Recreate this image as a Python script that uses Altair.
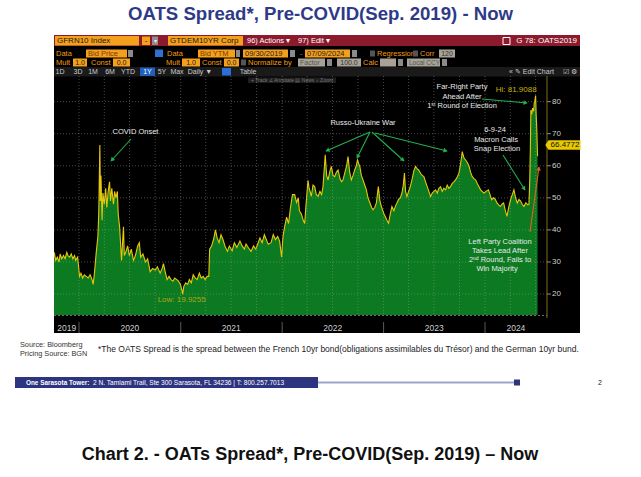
import math
import altair as alt
import pandas as pd

# ------------------------------------------------------------------ data
dates = [
    "2019-09-30", "2019-10-04", "2019-10-09", "2019-10-15", "2019-10-21", "2019-10-25", "2019-10-31",
    "2019-11-06", "2019-11-12", "2019-11-18", "2019-11-22", "2019-11-28", "2019-12-04", "2019-12-10",
    "2019-12-16", "2019-12-20", "2019-12-27",
    "2020-01-03", "2020-01-08", "2020-01-14", "2020-01-20", "2020-01-27", "2020-02-03", "2020-02-10",
    "2020-02-17", "2020-02-21", "2020-02-26", "2020-03-03", "2020-03-09", "2020-03-12", "2020-03-16",
    "2020-03-18", "2020-03-20", "2020-03-24", "2020-03-27", "2020-04-01", "2020-04-06", "2020-04-10",
    "2020-04-15", "2020-04-20", "2020-04-23", "2020-04-28", "2020-05-04", "2020-05-08", "2020-05-13",
    "2020-05-18", "2020-05-21", "2020-05-26", "2020-06-02", "2020-06-05", "2020-06-09", "2020-06-12",
    "2020-06-17", "2020-06-24", "2020-06-30", "2020-07-07", "2020-07-15", "2020-07-22", "2020-07-30",
    "2020-08-05", "2020-08-10", "2020-08-18", "2020-08-27", "2020-09-04", "2020-09-13", "2020-09-22",
    "2020-10-01", "2020-10-09", "2020-10-19", "2020-10-26", "2020-10-31", "2020-11-06", "2020-11-13",
    "2020-11-20", "2020-11-27", "2020-12-04", "2020-12-10", "2020-12-18", "2020-12-24", "2020-12-31",
    "2021-01-06", "2021-01-08", "2021-01-12", "2021-01-19", "2021-01-26", "2021-02-01", "2021-02-08",
    "2021-02-15", "2021-02-22", "2021-03-01", "2021-03-09", "2021-03-16", "2021-03-23", "2021-03-30",
    "2021-04-06", "2021-04-12", "2021-04-15", "2021-04-22", "2021-04-29", "2021-05-06", "2021-05-12",
    "2021-05-19", "2021-05-26", "2021-06-02", "2021-06-09", "2021-06-18", "2021-06-25", "2021-07-05",
    "2021-07-13", "2021-07-22", "2021-08-02", "2021-08-10", "2021-08-18", "2021-08-24", "2021-09-01",
    "2021-09-11", "2021-09-20", "2021-09-28", "2021-10-05", "2021-10-13", "2021-10-21", "2021-10-29",
    "2021-11-05", "2021-11-12", "2021-11-22", "2021-11-30", "2021-12-08", "2021-12-16", "2021-12-23",
    "2021-12-30",
    "2022-01-04", "2022-01-10", "2022-01-17", "2022-01-24", "2022-01-31", "2022-02-07", "2022-02-15",
    "2022-02-22", "2022-02-28", "2022-03-04", "2022-03-11", "2022-03-18", "2022-03-23", "2022-03-28",
    "2022-04-04", "2022-04-08", "2022-04-16", "2022-04-22", "2022-04-28", "2022-05-04", "2022-05-10",
    "2022-05-17", "2022-05-23", "2022-05-28", "2022-06-05", "2022-06-10", "2022-06-15", "2022-06-21",
    "2022-06-27", "2022-07-03", "2022-07-09", "2022-07-15", "2022-07-21", "2022-07-28", "2022-08-03",
    "2022-08-08", "2022-08-15", "2022-08-21", "2022-08-26", "2022-09-01", "2022-09-07", "2022-09-13",
    "2022-09-19", "2022-09-25", "2022-09-29", "2022-10-04", "2022-10-07", "2022-10-13", "2022-10-19",
    "2022-10-25", "2022-10-31", "2022-11-06", "2022-11-13", "2022-11-19", "2022-11-24", "2022-11-30",
    "2022-12-06", "2022-12-13", "2022-12-19", "2022-12-24",
    "2023-01-02", "2023-01-07", "2023-01-13", "2023-01-19", "2023-01-25", "2023-01-31", "2023-02-07",
    "2023-02-13", "2023-02-18", "2023-02-24", "2023-03-02", "2023-03-08", "2023-03-13", "2023-03-17",
    "2023-03-21", "2023-03-26", "2023-04-01", "2023-04-07", "2023-04-14", "2023-04-20", "2023-04-26",
    "2023-05-02", "2023-05-07", "2023-05-15", "2023-05-20", "2023-05-26", "2023-06-01", "2023-06-07",
    "2023-06-13", "2023-06-19", "2023-06-25", "2023-07-01", "2023-07-07", "2023-07-13", "2023-07-19",
    "2023-07-25", "2023-07-31", "2023-08-06", "2023-08-12", "2023-08-18", "2023-08-24", "2023-08-30",
    "2023-09-05", "2023-09-11", "2023-09-17", "2023-09-23", "2023-09-29", "2023-10-04", "2023-10-09",
    "2023-10-11", "2023-10-17", "2023-10-23", "2023-10-29", "2023-11-04", "2023-11-10", "2023-11-16",
    "2023-11-22", "2023-11-28", "2023-12-04", "2023-12-10", "2023-12-16", "2023-12-22", "2023-12-28",
    "2024-01-05", "2024-01-13", "2024-01-19", "2024-01-25", "2024-02-01", "2024-02-07", "2024-02-13",
    "2024-02-19", "2024-02-25", "2024-03-02", "2024-03-08", "2024-03-14", "2024-03-20", "2024-03-26",
    "2024-04-02", "2024-04-08", "2024-04-14", "2024-04-20", "2024-04-26", "2024-05-02", "2024-05-08",
    "2024-05-14", "2024-05-20", "2024-05-27", "2024-06-03", "2024-06-07", "2024-06-10", "2024-06-12",
    "2024-06-14", "2024-06-17", "2024-06-20", "2024-06-24", "2024-06-26", "2024-06-28", "2024-07-01",
    "2024-07-03", "2024-07-05", "2024-07-08",
]
spread = [
    30.5, 33.0, 30.5, 31.5, 30.0, 32.5, 31.0,
    32.0, 31.0, 33.0, 32.0, 31.5, 32.5, 31.0,
    32.0, 30.5, 31.5,
    25.5, 26.5, 25.0, 26.0, 25.5, 25.0, 26.0,
    24.5, 23.0, 27.0, 33.0, 38.0, 45.0, 66.5,
    49.0, 57.0, 43.0, 51.5, 48.0, 53.0, 47.0,
    52.0, 55.0, 49.0, 53.0, 48.0, 52.0, 50.0,
    52.0, 45.0, 41.0, 30.5, 35.0, 41.0, 32.0,
    33.0, 35.0, 32.0, 34.0, 30.5, 32.0, 35.0,
    36.0, 31.5, 32.5, 30.0, 31.0, 27.0, 28.0,
    27.5, 28.5, 26.5, 28.0, 29.5, 27.0, 24.5,
    25.5, 24.5, 24.0, 25.0, 24.5, 24.0, 23.0,
    21.0, 19.9255, 22.4, 23.5, 23.0, 24.5, 23.5,
    26.0, 25.0, 24.5, 26.5, 25.0, 25.5, 24.5,
    25.5, 25.5, 34.0, 35.0, 37.0, 40.0, 37.5,
    36.0, 38.5, 37.0, 35.0, 33.3, 35.0, 33.5,
    36.0, 34.5, 36.5, 35.0, 34.0, 35.6, 34.5,
    33.3, 35.0, 34.0, 35.6, 37.5, 36.0, 38.5,
    37.0, 35.5, 36.0, 38.5, 37.0, 38.0, 36.5,
    31.5,
    38.0, 41.0, 44.0, 42.0, 47.0, 51.0, 51.0,
    48.5, 50.0, 46.0, 45.0, 43.0, 42.0, 48.0,
    55.5, 53.0, 50.5, 54.0, 53.5, 51.0, 50.5,
    52.0, 51.0, 53.5, 63.4, 57.0, 55.5, 58.0,
    59.8, 57.0, 56.6, 58.0, 58.7, 56.0, 55.0,
    55.6, 58.0, 60.0, 62.9, 58.0, 55.6, 57.0,
    58.7, 60.0, 61.8, 60.5, 60.0, 57.0, 55.6,
    54.0, 52.5, 50.0, 48.4, 47.0, 46.3, 47.0,
    48.4, 53.5, 49.0, 47.3,
    45.0, 44.2, 43.0, 42.1, 45.0, 47.3, 46.0,
    47.5, 48.4, 49.5, 50.0, 51.5, 54.0, 57.7,
    52.0, 50.4, 52.0, 53.5, 56.0, 58.5, 59.8,
    59.0, 58.7, 57.5, 57.0, 56.6, 55.0, 53.5,
    52.0, 50.4, 51.5, 52.0, 52.5, 51.5, 53.0,
    53.5, 52.0, 53.0, 52.5, 54.0, 53.0, 53.5,
    54.5, 55.0, 55.6, 56.5, 57.7, 60.0, 63.0,
    64.4, 62.5, 61.8, 61.0, 60.0, 58.0, 56.6,
    56.0, 55.6, 54.5, 53.5, 52.5, 52.0, 51.5,
    52.0, 52.5, 51.0, 49.4, 50.0, 49.5, 48.4,
    47.8, 47.3, 48.0, 48.4, 46.0, 44.2, 47.0,
    49.4, 51.0, 52.5, 50.0, 48.4, 49.5, 49.0,
    48.0, 47.3, 48.5, 47.8, 48.0, 55.6, 65.0,
    77.4, 76.0, 78.0, 77.0, 79.6, 80.0, 81.9088,
    76.0, 72.0, 63.0,
]

year_labels = ["2019", "2020", "2021", "2022", "2023", "2024"]
year_label_dates = ["2019-11-18", "2020-07-02", "2021-07-02", "2022-07-02", "2023-07-02", "2024-04-21"]
year_starts = ["2020-01-01", "2021-01-01", "2022-01-01", "2023-01-01", "2024-01-01"]
quarter_starts = [
    "2020-01-01", "2020-04-01", "2020-07-01", "2020-10-01",
    "2021-01-01", "2021-04-01", "2021-07-01", "2021-10-01",
    "2022-01-01", "2022-04-01", "2022-07-01", "2022-10-01",
    "2023-01-01", "2023-04-01", "2023-07-01", "2023-10-01",
    "2024-01-01", "2024-04-01", "2024-07-01",
]
y_ticks = [20, 30, 40, 50, 60, 70, 80]
hi_date, hi_value = "2024-07-01", 81.9088
low_date, low_value = "2021-01-08", 19.9255
last_value = 66.4772

# ------------------------------------------------------------------ layout
OX, OY = 54, 76          # plot-area origin within the 641x477 page
W, H = 493, 239          # plot-area size
FONT = "Liberation Sans"
GREEN = "#0b7a20"
YELLOW = "#e8c80a"
ORANGE = "#f5a01c"
OTXT = "#f39c12"
TAN = "#a8a396"
GRAY = "#8a8a8a"
ARROW_G = "#22b04f"
UI = 7.5

one = pd.DataFrame({"k": [0]})

xscale = alt.Scale(domain=[alt.DateTime(year=2019, month=10, date=3, utc=True),
                           alt.DateTime(year=2024, month=8, date=11, utc=True)])
yscale = alt.Scale(domain=[13.46, 88.0], nice=False, zero=False)

layers = []


def R(x1, y1, x2, y2, color, **kw):
    layers.append(alt.Chart(one).mark_rect(color=color, **kw).encode(
        x=alt.value(x1 - OX), x2=alt.value(x2 - OX),
        y=alt.value(y1 - OY), y2=alt.value(y2 - OY)))


def T(s, x, y, size=UI, color="#e6e6e6", align="left", weight="normal", font=FONT):
    layers.append(alt.Chart(one).mark_text(
        text=s, align=align, baseline="middle", fontSize=size, color=color,
        fontWeight=weight, font=font).encode(x=alt.value(x - OX), y=alt.value(y - OY)))


def L(x1, y1, x2, y2, color, width=1.2, dash=None):
    kw = {"strokeDash": dash} if dash else {}
    layers.append(alt.Chart(one).mark_rule(color=color, strokeWidth=width, **kw).encode(
        x=alt.value(x1 - OX), y=alt.value(y1 - OY),
        x2=alt.value(x2 - OX), y2=alt.value(y2 - OY)))


def A(x1, y1, x2, y2, color, width=1.1):
    L(x1, y1, x2, y2, color, width)
    ang = math.degrees(math.atan2(x2 - x1, -(y2 - y1))) % 360
    d = math.hypot(x2 - x1, y2 - y1)
    ux, uy = (x2 - x1) / d, (y2 - y1) / d
    layers.append(alt.Chart(one).mark_point(
        shape="triangle-up", filled=True, color=color, size=22, angle=ang, opacity=1).encode(
        x=alt.value(x2 - 1.5 * ux - OX), y=alt.value(y2 - 1.5 * uy - OY)))


# ---------------- page texts
T("OATS Spread*, Pre-COVID(Sep. 2019) - Now", 320.5, 14, 18.6, "#2e3a87", "center", "bold")
T("Chart 2. - OATs Spread*, Pre-COVID(Sep. 2019) \u2013 Now", 310, 455, 18, "#111111", "center", "bold")

# ---------------- Bloomberg panel
R(54, 35, 580, 333, "#000000")
R(54, 35, 580, 46, "#8a1a2c")
R(55, 36, 139, 45.5, ORANGE)
T("GFRN10 Index", 57, 41, 8, "#1a1a1a")
R(142, 36.5, 150, 45, ORANGE)
T("-", 146, 40.5, 8, "#1a1a1a", "center")
R(152, 36.5, 158, 45, "#8d8d8d")
T("\u25be", 155, 41, 6, "#eeeeee", "center")
R(168, 36, 243, 45.5, ORANGE)
T("GTDEM10YR Corp", 170, 41, 8, "#1a1a1a")
T("96) Actions \u25be", 247, 41, UI, "#ffffff")
T("97) Edit \u25be", 298, 41, UI, "#ffffff")
layers.append(alt.Chart(one).mark_rect(filled=False, stroke="#ffffff", strokeWidth=1).encode(
    x=alt.value(503 - OX), x2=alt.value(510 - OX), y=alt.value(37.5 - OY), y2=alt.value(44.5 - OY)))
T("G 78: OATS2019", 577, 41, 8, "#ffffff", "right")

# row 2
r2 = 53.5
T("Data", 56, r2, UI, OTXT)
R(86, 49.5, 127, 57.5, ORANGE); T("Bid Price", 88, r2, UI, "#7a3a00")
R(128, 50, 133, 57, GRAY)
R(155, 49.5, 163, 57, "#2f6fd0")
T("Data", 167, r2, UI, OTXT)
R(198, 49.5, 235, 57.5, ORANGE); T("Bid YTM", 200, r2, UI, "#7a3a00")
R(236, 50, 240, 57, GRAY)
R(243, 49.5, 288, 57.5, ORANGE); T("09/30/2019", 245, r2, UI, "#1a1a1a")
R(290, 50, 295, 57, GRAY)
T("-", 300, r2, UI, GRAY)
R(305, 49.5, 350, 57.5, ORANGE); T("07/09/2024", 307, r2, UI, "#1a1a1a")
R(352, 50, 357, 57, GRAY)
R(370, 50.5, 375, 56.5, "#555555"); T("Regression", 377, r2, UI, OTXT)
R(413, 50.5, 418, 56.5, "#555555"); T("Corr", 420, r2, UI, OTXT)
R(439, 49.5, 455, 57.5, TAN); T("120", 447, r2, 7, "#333333", "center")

# row 3
r3 = 62.5
T("Mult", 56, r3, UI, OTXT)
R(73, 58.5, 87, 66.5, ORANGE); T("1.0", 80, r3, 7, "#1a1a1a", "center")
T("Const", 91, r3, UI, OTXT)
R(113, 58.5, 130, 66.5, ORANGE); T("0.0", 121.5, r3, 7, "#1a1a1a", "center")
T("Mult", 166, r3, UI, OTXT)
R(182, 58.5, 200, 66.5, ORANGE); T("1.0", 191, r3, 7, "#1a1a1a", "center")
T("Const", 202, r3, UI, OTXT)
R(224, 58.5, 239, 66.5, ORANGE); T("0.0", 231.5, r3, 7, "#1a1a1a", "center")
R(241, 59.5, 246, 65.5, "#555555"); T("Normalize by", 248, r3, UI, OTXT)
R(298, 58.5, 325, 66.5, TAN); T("Factor", 300, r3, 7, "#555555")
R(327, 59, 332, 66, GRAY)
R(337, 58.5, 361, 66.5, TAN); T("100.0", 349, r3, 7, "#333333", "center")
T("Calc", 363, r3, UI, OTXT)
R(380, 58.5, 396, 66.5, TAN)
R(398, 59, 403, 66, GRAY)
R(407, 58.5, 440, 66.5, TAN); T("Local CCY", 409, r3, 6.5, "#555555")
R(442, 59, 447, 66, GRAY)

# toolbar
R(54, 67, 580, 76.5, "#1a1a1a")
tb = 71.8
for s, x in [("1D", 60), ("3D", 78), ("1M", 93), ("6M", 110), ("YTD", 128)]:
    T(s, x, tb, 7, "#cccccc", "center")
R(140, 67.5, 155, 76, "#1f5fbf"); T("1Y", 147.5, tb, 7, "#ffffff", "center")
for s, x in [("5Y", 162), ("Max", 177), ("Daily \u25bc", 200)]:
    T(s, x, tb, 7, "#cccccc", "center")
R(222, 68, 231, 75.5, "#2b6fd6")
T("Table", 248, tb, 7, "#cccccc", "center")
T("\u00ab  \u270e Edit Chart", 509, tb, 7, "#cccccc")
T("\u2611  \u2699", 563, tb, 7, "#cccccc")
R(248, 77.5, 336, 83, "#1e1e1e")
T("+ Track   \u2220 Annotate   \u25a4 News   \u2315 Zoom", 251, 80.3, 5, "#777777")

# ---------------- data layers
df = pd.DataFrame({"date": dates, "v": spread})
base = alt.Chart(df).encode(
    x=alt.X("date:T", scale=xscale, axis=None),
    y=alt.Y("v:Q", scale=yscale, stack=False, axis=None),
)
layers.append(base.mark_area(color=GREEN, clip=True, opacity=1))
layers.append(base.mark_line(color=YELLOW, strokeWidth=1.1, clip=True))

# grid (vertical quarterly, horizontal at ticks)
grid_kw = dict(color="#a8a8a8", strokeDash=[1, 2], opacity=0.55, strokeWidth=0.8)
layers.append(alt.Chart(pd.DataFrame({"d": quarter_starts})).mark_rule(**grid_kw).encode(
    x=alt.X("d:T", scale=xscale, axis=None), y=alt.value(0), y2=alt.value(H)))
ydf = pd.DataFrame({"t": y_ticks})
layers.append(alt.Chart(ydf).mark_rule(**grid_kw).encode(
    y=alt.Y("t:Q", scale=yscale, axis=None), x=alt.value(0), x2=alt.value(W)))

# y axis (right)
L(547, 76, 547, 318, "#6b5d12", 1.2)
layers.append(alt.Chart(ydf).mark_rule(color="#8a8a8a", strokeWidth=1).encode(
    y=alt.Y("t:Q", scale=yscale, axis=None), x=alt.value(W), x2=alt.value(W + 4)))
layers.append(alt.Chart(ydf).mark_text(align="left", baseline="middle", fontSize=8, font=FONT,
                                       color="#cfcfcf").encode(
    y=alt.Y("t:Q", scale=yscale, axis=None), x=alt.value(W + 5), text="t:Q"))

# x axis (bottom)
L(54, 315.5, 547, 315.5, "#6a6a6a", 1, [2, 2])
layers.append(alt.Chart(pd.DataFrame({"d": year_starts})).mark_rule(
    color="#5a5a5a", strokeWidth=1).encode(
    x=alt.X("d:T", scale=xscale, axis=None), y=alt.value(322 - OY), y2=alt.value(333 - OY)))
layers.append(alt.Chart(pd.DataFrame({"d": year_label_dates, "t": year_labels})).mark_text(
    align="center", baseline="middle", fontSize=8.5, font=FONT, color="#cfcfcf").encode(
    x=alt.X("d:T", scale=xscale, axis=None), y=alt.value(328 - OY), text="t:N"))

# hi / low labels
layers.append(alt.Chart(pd.DataFrame({"d": [hi_date], "v": [hi_value], "t": [f"Hi: {hi_value:.4f}"]}))
              .mark_text(align="right", baseline="middle", dx=1, dy=-6, fontSize=8, font=FONT,
                         color="#c8b400")
              .encode(x=alt.X("d:T", scale=xscale, axis=None),
                      y=alt.Y("v:Q", scale=yscale, axis=None), text="t:N"))
layers.append(alt.Chart(pd.DataFrame({"d": [low_date], "v": [low_value], "t": [f"Low: {low_value:.4f}"]}))
              .mark_text(align="center", baseline="middle", dx=-1, dy=6, fontSize=8, font=FONT,
                         color="#b3a41a")
              .encode(x=alt.X("d:T", scale=xscale, axis=None),
                      y=alt.Y("v:Q", scale=yscale, axis=None), text="t:N"))

# last-value tag on the axis
tag = pd.DataFrame({"v": [last_value], "t": [f"{last_value:.4f}"]})
layers.append(alt.Chart(tag).mark_point(
    shape="M-1.2,0L-1,-0.3L1,-0.3L1,0.3L-1,0.3Z", filled=True, color="#e8c800", size=1024,
    opacity=1).encode(x=alt.value(564.5 - OX), y=alt.Y("v:Q", scale=yscale, axis=None)))
layers.append(alt.Chart(tag).mark_text(align="center", baseline="middle", fontSize=8, font=FONT,
                                       color="#111111").encode(
    x=alt.value(565 - OX), y=alt.Y("v:Q", scale=yscale, axis=None), text="t:N"))

# ---------------- annotations
AW = "#e8e8e8"
AS = 7.5
T("COVID Onset", 135.5, 131.7, AS, AW, "center")
A(131, 139, 111, 161, ARROW_G)
T("Russo-Ukraine War", 363, 123.3, AS, AW, "center")
A(370, 132, 326, 151, ARROW_G)
A(370, 132, 357, 158, ARROW_G)
A(372, 132, 404, 161, ARROW_G)
A(375, 133, 447, 151, ARROW_G)
T("Far-Right Party", 462, 87.3, AS, AW, "center")
T("Ahead After", 462, 96.5, AS, AW, "center")
T("1\u02e2\u1d57 Round of Election", 462, 105.7, AS, AW, "center")
A(482, 99, 527, 103, ARROW_G)
T("6-9-24", 495, 130, AS, AW, "center")
T("Macron Calls", 496, 140, AS, AW, "center")
T("Snap Election", 497, 149.3, AS, AW, "center")
A(503, 155, 525, 190, ARROW_G)
T("Left Party Coalition", 500, 242.3, AS, AW, "center")
T("Takes Lead After", 500, 251.3, AS, AW, "center")
T("2\u207f\u1d48 Round, Fails to", 500, 260.3, AS, AW, "center")
T("Win Majority", 497, 269.3, AS, AW, "center")
A(530, 232, 539, 167, "#e8601c")

# ---------------- footer of the slide
T("Source: Bloomberg", 20, 344.5, 7.3, "#333333")
T("Pricing Source: BGN", 20, 353.5, 7.3, "#333333")
T("*The OATS Spread is the spread between the French 10yr bond(obligations assimilables du Tr\u00e9sor) "
  "and the German 10yr bund.", 98, 349, 8.5, "#222222")
R(15, 377, 318, 388, "#2d3580")
T("One Sarasota Tower:", 26, 382.5, 6.4, "#ffffff", "left", "bold")
T("2 N. Tamiami Trail, Ste 300  Sarasota, FL 34236   |   T: 800.257.7013", 93, 382.5, 6.6, "#ffffff")
L(318, 382.5, 515, 382.5, "#9fa3c9", 2)
R(514, 379.5, 520, 385.5, "#2d3580")
T("2", 600, 382.5, 7, "#222222", "center")

chart = alt.layer(*layers).properties(
    width=W, height=H,
    padding={"left": OX, "top": OY, "right": 641 - OX - W, "bottom": 477 - OY - H},
    autosize=alt.AutoSizeParams(type="none"),
    background="#ffffff",
).configure_view(stroke="transparent")

chart.save("out.html", embed_options={"renderer": "svg", "actions": False})
